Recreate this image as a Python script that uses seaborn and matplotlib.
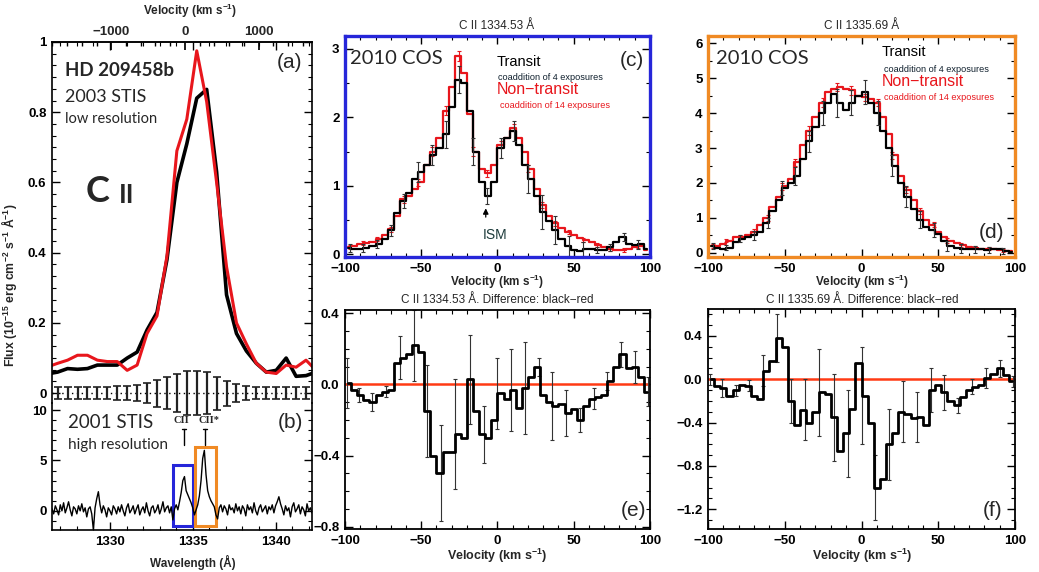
import numpy as np
import matplotlib
matplotlib.use("Agg")
import matplotlib.pyplot as plt
import seaborn as sns
from matplotlib.ticker import MultipleLocator, AutoMinorLocator
from matplotlib.patches import Rectangle

# ---------------- DATA ----------------
# Panel (a): low-resolution STIS (2003), flux in 1e-15 units
lam_lo = np.round(1335.24 + 0.6 * np.arange(-15, 13), 2)
flux_lo_transit = [0.055, 0.06, 0.07, 0.068, 0.07, 0.08, 0.08, 0.08, 0.10, 0.117,
                   0.18, 0.23, 0.38, 0.60, 0.71, 0.84, 0.865, 0.63, 0.28, 0.17,
                   0.12, 0.085, 0.06, 0.065, 0.10, 0.048, 0.05, 0.06]
flux_lo_nontransit = [0.075, 0.085, 0.094, 0.108, 0.108, 0.094, 0.09, 0.09, 0.065, 0.08,
                      0.17, 0.22, 0.39, 0.69, 0.78, 0.975, 0.83, 0.60, 0.36, 0.20,
                      0.14, 0.085, 0.06, 0.056, 0.08, 0.074, 0.094, 0.065]
err_lo = [0.018, 0.018, 0.018, 0.018, 0.018, 0.018, 0.02, 0.02, 0.022, 0.028,
          0.038, 0.045, 0.054, 0.062, 0.062, 0.06, 0.047, 0.036, 0.026, 0.02,
          0.018, 0.018, 0.018, 0.018, 0.018, 0.018]

# Panel (b): high-resolution STIS (2001)
lam_hi = np.round(np.arange(1326.5, 1342.35, 0.1), 2)
flux_hi = [0.2, -0.3, 0.5, 0.1, -0.4, 0.6, 0.0, 0.8, -0.2, 0.3,
           0.9, 0.1, -0.5, 0.4, 0.2, -0.3, 0.5, 0.0, 0.7, -0.1,
           0.3, -0.6, 0.2, 0.4, -0.3, -1.9, 0.3, 1.2, 1.9, 0.6,
           -0.2, 0.5, 0.1, -0.6, 0.3, 0.0, -0.4, 0.5, 0.2, -0.3,
           0.4, -0.1, 0.6, 0.0, -0.5, 0.3, 0.7, -0.2, 0.1, 0.5,
           -0.3, 0.2, 0.6, -0.4, 0.1, 0.4, -0.2, 0.8, 0.0, -0.5,
           0.3, 0.5, -0.2, 0.1, 0.6, -0.3, 0.2, 0.9, -0.1, 0.3,
           0.5, -0.2, 0.4, -0.9, 0.2, 0.6, 0.1, 0.9, 1.8, 3.0,
           3.4, 2.0, 1.6, 1.2, 0.8, 0.3, -0.4, 0.1, 0.6, 1.5,
           3.0, 5.2, 6.0, 3.6, 2.0, 1.4, 1.0, 0.7, 0.4, -0.4,
           -0.8, 0.3, 0.6, -0.1, 0.5, 0.2, -0.4, 0.6, 0.1, 0.3,
           -0.2, 0.7, 0.0, 0.4, -0.3, 0.5, 0.2, -0.5, 0.6, 0.1,
           0.4, -0.2, 0.8, 0.0, -0.4, 0.3, 0.6, -0.1, 0.2, 0.5,
           -0.3, 0.4, 0.1, 0.6, -0.2, 0.5, 0.9, 1.4, 0.7, 0.2,
           -0.4, 0.5, 0.0, 0.3, -0.6, 0.4, 0.8, -0.1, 0.2, 0.6,
           -0.3, 0.4, 0.1, -0.5, 0.7, 0.0, 0.3, -0.2, 0.4]

# Panels (c)-(f): COS velocity bins (km/s)
vel = np.arange(-98, 99, 4)
c_transit = [0.09, 0.08, 0.07, 0.09, 0.12, 0.15, 0.22, 0.35, 0.60, 0.78,
             0.90, 1.10, 1.20, 1.30, 1.45, 1.55, 1.75, 2.15, 2.55, 2.50,
             2.10, 1.50, 1.05, 0.85, 1.05, 1.55, 1.70, 1.80, 1.60, 1.30,
             1.10, 0.85, 0.62, 0.48, 0.35, 0.22, 0.12, 0.06, 0.05, 0.07,
             0.08, 0.06, 0.06, 0.10, 0.18, 0.25, 0.15, 0.13, 0.14, 0.07]
c_nontransit = [0.10, 0.12, 0.14, 0.16, 0.18, 0.22, 0.28, 0.36, 0.55, 0.80,
                0.85, 0.95, 1.05, 1.30, 1.50, 1.70, 2.10, 2.45, 2.90, 2.65,
                2.05, 1.50, 1.25, 1.18, 1.30, 1.60, 1.70, 1.85, 1.70, 1.50,
                1.25, 0.95, 0.72, 0.55, 0.45, 0.38, 0.32, 0.28, 0.24, 0.20,
                0.17, 0.13, 0.10, 0.08, 0.06, 0.06, 0.08, 0.10, 0.12, 0.06]
d_transit = [0.20, 0.15, 0.12, 0.15, 0.30, 0.40, 0.45, 0.50, 0.60, 0.85,
             1.20, 1.50, 1.85, 2.00, 2.20, 2.70, 3.20, 3.60, 4.00, 4.30,
             4.55, 4.30, 4.10, 4.30, 4.50, 4.60, 4.30, 4.00, 3.50, 3.00,
             2.50, 2.00, 1.60, 1.25, 0.95, 0.75, 0.65, 0.55, 0.35, 0.20,
             0.15, 0.12, 0.10, 0.10, 0.10, 0.08, 0.10, 0.10, 0.05, 0.03]
d_nontransit = [0.20, 0.20, 0.25, 0.35, 0.45, 0.45, 0.50, 0.60, 0.80, 1.00,
                1.30, 1.60, 1.90, 2.10, 2.60, 3.10, 3.50, 3.90, 4.30, 4.60,
                4.70, 4.75, 4.70, 4.65, 4.50, 4.45, 4.40, 4.30, 3.90, 3.40,
                2.80, 2.20, 1.80, 1.50, 1.20, 0.95, 0.80, 0.60, 0.45, 0.35,
                0.28, 0.22, 0.18, 0.15, 0.12, 0.12, 0.10, 0.08, 0.06, 0.04]
e_diff = [0.01, -0.03, -0.06, -0.09, -0.10, -0.06, -0.04, -0.03, 0.12, 0.15,
          0.17, 0.22, 0.18, -0.15, -0.40, -0.50, -0.38, -0.38, -0.28, -0.30,
          0.03, -0.15, -0.28, -0.30, -0.20, -0.05, -0.08, -0.03, -0.13, -0.02,
          0.04, 0.10, -0.06, -0.10, -0.12, -0.11, -0.16, -0.14, -0.20, -0.12,
          -0.08, -0.07, -0.06, 0.02, 0.10, 0.17, 0.09, 0.10, 0.04, -0.04]
f_diff = [0.00, -0.06, -0.08, -0.15, -0.10, -0.05, -0.06, -0.15, -0.18, 0.08,
          0.17, 0.38, 0.30, -0.20, -0.42, -0.28, -0.40, -0.30, -0.12, -0.14,
          -0.35, -0.66, -0.50, -0.27, 0.15, -0.15, -0.40, -1.00, -0.92, -0.60,
          -0.50, -0.30, -0.32, -0.36, -0.35, -0.42, -0.10, -0.05, -0.12, -0.20,
          -0.24, -0.16, -0.10, -0.07, -0.05, 0.01, 0.05, 0.10, 0.04, -0.02]

# error bars (positions in km/s, half-sizes)
err_vel_cd = [-97, -88, -79, -70, -61, -52, -43, -34, -25, -16, -7,
              2, 11, 20, 29, 38, 47, 56, 65, 74, 83, 92]
c_err_transit = [0.06, 0.06, 0.06, 0.08, 0.10, 0.15, 0.15, 0.20, 0.20, 0.20, 0.12,
                 0.15, 0.15, 0.20, 0.25, 0.20, 0.15, 0.10, 0.05, 0.05, 0.06, 0.06]
c_err_nontransit = [0.03, 0.03, 0.03, 0.04, 0.05, 0.05, 0.06, 0.06, 0.07, 0.06, 0.05,
                    0.05, 0.05, 0.05, 0.04, 0.04, 0.03, 0.03, 0.03, 0.03, 0.03, 0.03]
d_err_transit = [0.08, 0.08, 0.10, 0.12, 0.15, 0.20, 0.25, 0.30, 0.35, 0.40, 0.35,
                 0.35, 0.35, 0.30, 0.30, 0.25, 0.20, 0.15, 0.12, 0.10, 0.08, 0.08]
d_err_nontransit = [0.05, 0.05, 0.06, 0.07, 0.08, 0.10, 0.10, 0.12, 0.12, 0.12, 0.12,
                    0.10, 0.10, 0.10, 0.08, 0.08, 0.07, 0.06, 0.05, 0.05, 0.05, 0.05]
err_vel_ef = [-99, -91, -82, -73, -64, -55, -46, -37, -28, -18, -9, 0,
              9, 18, 27, 36, 45, 54, 63, 72, 81, 90, 99]
e_err = [0.14, 0.04, 0.05, 0.03, 0.12, 0.20, 0.26, 0.27, 0.31, 0.25, 0.16, 0.20,
         0.23, 0.26, 0.05, 0.19, 0.13, 0.07, 0.06, 0.05, 0.07, 0.09, 0.08]
f_err = [0.05, 0.08, 0.05, 0.05, 0.14, 0.22, 0.20, 0.28, 0.40, 0.40, 0.40, 0.45,
         0.30, 0.33, 0.28, 0.23, 0.20, 0.16, 0.07, 0.07, 0.09, 0.08, 0.05]

# ---------------- STYLE ----------------
sns.set_theme(style="white")
plt.rcParams['font.family'] = ['Liberation Sans', 'DejaVu Sans']
plt.rcParams['mathtext.fontset'] = 'custom'
plt.rcParams['mathtext.rm'] = 'Liberation Sans'
plt.rcParams['mathtext.bf'] = 'Liberation Sans:bold'
plt.rcParams['mathtext.default'] = 'bf'

RED = '#e8161c'
BLUE = '#2626d9'
ORANGE = '#f08a24'
ZERO = '#ff3a14'
TICKFS = 9.5

W, H = 1039, 572
fig = plt.figure(figsize=(W / 100, H / 100), dpi=100)
fig.patch.set_facecolor('white')


def add_ax(l, r, t, b):
    ax = fig.add_axes([l / W, 1 - b / H, (r - l) / W, (b - t) / H])
    ax.set_facecolor('none')
    return ax


def ftxt(x, y, s, **kw):
    kw.setdefault('va', 'center')
    kw.setdefault('ha', 'left')
    fig.text(x / W, 1 - y / H, s, **kw)


def style(ax, xmaj, xmin, ymaj, ymin, frame='black', flw=1.2):
    ax.xaxis.set_major_locator(MultipleLocator(xmaj))
    ax.xaxis.set_minor_locator(MultipleLocator(xmin))
    ax.yaxis.set_major_locator(MultipleLocator(ymaj))
    if ymin is not None:
        ax.yaxis.set_minor_locator(MultipleLocator(ymin))
    ax.tick_params(which='both', direction='in', top=True, right=True,
                   bottom=True, left=True, color='black', labelcolor='black',
                   labelsize=TICKFS, pad=4)
    ax.tick_params(which='major', length=6, width=1.0)
    ax.tick_params(which='minor', length=3, width=0.8)
    for s in ax.spines.values():
        s.set_color(frame)
        s.set_linewidth(flw)
    ax.grid(False)
    ax.set_xlabel('')
    ax.set_ylabel('')


def bold_ticks(ax):
    for lab in ax.get_xticklabels() + ax.get_yticklabels():
        lab.set_fontweight('bold')


edges = np.arange(-100, 101, 4)


def step_val(vals, pos):
    idx = np.clip(np.searchsorted(edges, pos, side='right') - 1, 0, len(vals) - 1)
    return np.asarray(vals)[idx]


def fmt_plain(x, pos):
    if abs(x) < 1e-9:
        return '0'
    return ('%g' % x).replace('-', '\u2212')


# ---------------- PANEL (a) ----------------
ax_a = add_ax(52, 312, 42, 403)
sns.lineplot(x=lam_lo, y=flux_lo_transit, ax=ax_a, color='black', lw=2.6,
             estimator=None, sort=False)
sns.lineplot(x=lam_lo, y=flux_lo_nontransit, ax=ax_a, color=RED, lw=2.2,
             estimator=None, sort=False)
ax_a.axhline(0, color='black', lw=1.0, ls=(0, (1, 2.5)))
eb = ax_a.errorbar(lam_lo[1:-1], np.zeros(len(err_lo)), yerr=err_lo, fmt='none',
                   ecolor='#222222', elinewidth=1.6, capsize=3, capthick=1.2)
for art in list(eb[1]) + list(eb[2]):
    art.set_clip_on(False)
ax_a.set_xlim(1326.5, 1342.2)
ax_a.set_ylim(-0.028, 1.0)
style(ax_a, 5, 1, 0.2, None)
ax_a.yaxis.set_minor_locator(AutoMinorLocator(6))
ax_a.tick_params(which='both', bottom=False, labelbottom=False)
ax_a.spines['bottom'].set_visible(False)
ax_a.yaxis.set_major_formatter(plt.FuncFormatter(
    lambda x, p: '0' if abs(x) < 1e-9 else ('1' if abs(x - 1) < 1e-9 else '%.1f' % x)))
bold_ticks(ax_a)

C_KMS = 299792.458
L0 = 1334.53
sec = ax_a.secondary_xaxis('top', functions=(lambda l: (l - L0) / L0 * C_KMS,
                                             lambda v: L0 * (1 + v / C_KMS)))
sec.xaxis.set_major_locator(MultipleLocator(1000))
sec.xaxis.set_minor_locator(MultipleLocator(200))
sec.tick_params(which='both', direction='in', labelsize=TICKFS, pad=3, color='black')
sec.tick_params(which='major', length=6)
sec.tick_params(which='minor', length=3)
sec.xaxis.set_major_formatter(plt.FuncFormatter(fmt_plain))
for lab in sec.get_xticklabels():
    lab.set_fontweight('bold')
sec.spines['top'].set_linewidth(1.2)

# ---------------- PANEL (b) ----------------
ax_b = add_ax(52, 312, 403, 530)
sns.lineplot(x=lam_hi, y=flux_hi, ax=ax_b, color='black', lw=1.0,
             estimator=None, sort=False)
ax_b.set_xlim(1326.5, 1342.2)
ax_b.set_ylim(-1.9, 10.7)
style(ax_b, 5, 1, 5, 1)
ax_b.tick_params(which='both', top=False)
ax_b.spines['top'].set_visible(False)
ax_b.xaxis.set_major_formatter(plt.FuncFormatter(lambda x, p: '%d' % round(x)))
ax_b.yaxis.set_major_formatter(plt.FuncFormatter(lambda x, p: '%d' % round(x)))
bold_ticks(ax_b)
ax_b.add_patch(Rectangle((1333.81, -1.55), 1.21, 6.1, fill=False, ec=BLUE, lw=2.2))
ax_b.add_patch(Rectangle((1335.14, -1.55), 1.29, 7.9, fill=False, ec=ORANGE, lw=2.2))
for xm in (1334.46, 1335.72):
    ax_b.plot([xm, xm], [6.5, 8.1], color='black', lw=1.0)
    ax_b.plot([xm - 0.12, xm + 0.12], [8.1, 8.1], color='black', lw=1.0)
ax_b.text(1334.3, 8.95, 'CII', ha='center', va='center', fontsize=7.5,
          family='Liberation Serif', fontweight='bold')
ax_b.text(1335.96, 8.95, 'CII*', ha='center', va='center', fontsize=7.5,
          family='Liberation Serif', fontweight='bold')

# left-panel texts
ftxt(65, 70, 'HD 209458b', family='Lato', fontweight='bold', fontsize=13.5)
ftxt(65, 97, '2003 STIS', family='Lato', fontsize=13)
ftxt(65, 119, 'low resolution', family='Lato', fontsize=10.5)
ftxt(86, 192, 'C', family='Lato', fontweight='bold', fontsize=26)
ftxt(119, 195, 'II', family='Lato', fontweight='bold', fontsize=19)
ftxt(290, 63, '(a)', ha='center', fontsize=15)
ftxt(68, 423, '2001 STIS', family='Lato', fontsize=13.5)
ftxt(68, 445, 'high resolution', family='Lato', fontsize=11)
ftxt(290, 422, '(b)', ha='center', fontsize=15)
ftxt(190, 11, 'Velocity (km s$^{-1}$)', ha='center', fontsize=8.5, fontweight='bold')
ftxt(193, 562, 'Wavelength (\u00c5)', ha='center', fontsize=8.5, fontweight='bold')
fig.text(9 / W, 1 - 285 / H, 'Flux (10$^{-15}$ erg cm$^{-2}$ s$^{-1}$ \u00c5$^{-1}$)',
         rotation=90, ha='center', va='center', fontsize=8.8, fontweight='bold')


# ---------------- PANELS (c) & (d) ----------------
def spectrum_panel(l, r, t, b, tr, nt, etr, ent, ylim, ymaj, ymin, frame):
    ax = add_ax(l, r, t, b)
    sns.lineplot(x=vel, y=nt, ax=ax, color=RED, lw=1.6, drawstyle='steps-mid',
                 estimator=None, sort=False)
    ax.errorbar(err_vel_cd, step_val(nt, err_vel_cd), yerr=ent, fmt='none',
                ecolor=RED, elinewidth=0.8, capsize=1.5, capthick=0.8)
    sns.lineplot(x=vel, y=tr, ax=ax, color='black', lw=1.6, drawstyle='steps-mid',
                 estimator=None, sort=False)
    ax.errorbar(err_vel_cd, step_val(tr, err_vel_cd), yerr=etr, fmt='none',
                ecolor='#333333', elinewidth=0.8, capsize=1.5, capthick=0.8)
    ax.set_xlim(-100, 100)
    ax.set_ylim(*ylim)
    style(ax, 50, 10, ymaj, ymin, frame=frame, flw=2.4)
    ax.xaxis.set_major_formatter(plt.FuncFormatter(fmt_plain))
    ax.yaxis.set_major_formatter(plt.FuncFormatter(fmt_plain))
    bold_ticks(ax)
    return ax


ax_c = spectrum_panel(345, 650, 36, 257, c_transit, c_nontransit, c_err_transit,
                      c_err_nontransit, (-0.043, 3.19), 1, 0.5, BLUE)
ax_d = spectrum_panel(708, 1015, 36, 257, d_transit, d_nontransit, d_err_transit,
                      d_err_nontransit, (-0.12, 6.21), 1, 0.5, ORANGE)

ax_c.annotate('', xy=(-7.7, 0.71), xytext=(-7.7, 0.50),
              arrowprops=dict(arrowstyle='-|>', color='black', lw=0.9,
                              mutation_scale=8))
ftxt(495, 235, 'ISM', ha='center', fontsize=10, color='#1d3b3b')

# (c) texts
ftxt(350, 58, '2010 COS', family='Lato', fontsize=14.5)
ftxt(497, 62, 'Transit', fontsize=10.5, color='black')
ftxt(498, 78, 'coaddition of 4 exposures', fontsize=6.6, color='#10202e')
ftxt(497, 90, 'Non\u2212transit', fontsize=11.5, color=RED)
ftxt(500, 105, 'coaddition of 14 exposures', fontsize=6.6, color=RED)
ftxt(632, 60, '(c)', ha='center', fontsize=15)
# (d) texts
ftxt(716, 58, '2010 COS', family='Lato', fontsize=14.5)
ftxt(882, 52, 'Transit', fontsize=10.5, color='black')
ftxt(884, 69, 'coaddition of 4 exposures', fontsize=6.6, color='#10202e')
ftxt(882, 81, 'Non\u2212transit', fontsize=11.5, color=RED)
ftxt(884, 97, 'coaddition of 14 exposures', fontsize=6.6, color=RED)
ftxt(992, 233, '(d)', ha='center', fontsize=15)

ftxt(497, 26, 'C II 1334.53 \u00c5', ha='center', fontsize=8.5)
ftxt(862, 26, 'C II 1335.69 \u00c5', ha='center', fontsize=8.5)
ftxt(497, 282, 'Velocity (km s$^{-1}$)', ha='center', fontsize=8.5, fontweight='bold')
ftxt(862, 282, 'Velocity (km s$^{-1}$)', ha='center', fontsize=8.5, fontweight='bold')


# ---------------- PANELS (e) & (f) ----------------
def diff_panel(l, r, t, b, vals, err, ylim):
    ax = add_ax(l, r, t, b)
    ax.errorbar(err_vel_ef, step_val(vals, err_vel_ef), yerr=err, fmt='none',
                ecolor='#333333', elinewidth=0.8, capsize=1.5, capthick=0.8)
    sns.lineplot(x=vel, y=vals, ax=ax, color='black', lw=2.0, drawstyle='steps-mid',
                 estimator=None, sort=False)
    ax.axhline(0, color=ZERO, lw=1.8, zorder=1)
    ax.set_xlim(-100, 100)
    ax.set_ylim(*ylim)
    style(ax, 50, 10, 0.4, 0.1, frame='black', flw=1.3)
    ax.xaxis.set_major_formatter(plt.FuncFormatter(fmt_plain))
    ax.yaxis.set_major_formatter(plt.FuncFormatter(
        lambda x, p: ('%.1f' % x).replace('-', '\u2212')))
    bold_ticks(ax)
    return ax


ax_e = diff_panel(345, 650, 310, 529, e_diff, e_err, (-0.813, 0.419))
ax_f = diff_panel(708, 1015, 309, 529, f_diff, f_err, (-1.382, 0.649))

ftxt(497, 300, 'C II 1334.53 \u00c5. Difference: black\u2212red', ha='center', fontsize=8.5)
ftxt(862, 300, 'C II 1335.69 \u00c5. Difference: black\u2212red', ha='center', fontsize=8.5)
ftxt(497, 556, 'Velocity (km s$^{-1}$)', ha='center', fontsize=9, fontweight='bold')
ftxt(862, 556, 'Velocity (km s$^{-1}$)', ha='center', fontsize=9, fontweight='bold')
ftxt(633, 510, '(e)', ha='center', fontsize=15)
ftxt(993, 510, '(f)', ha='center', fontsize=15)

fig.savefig('out.png', dpi=100, facecolor='white')
